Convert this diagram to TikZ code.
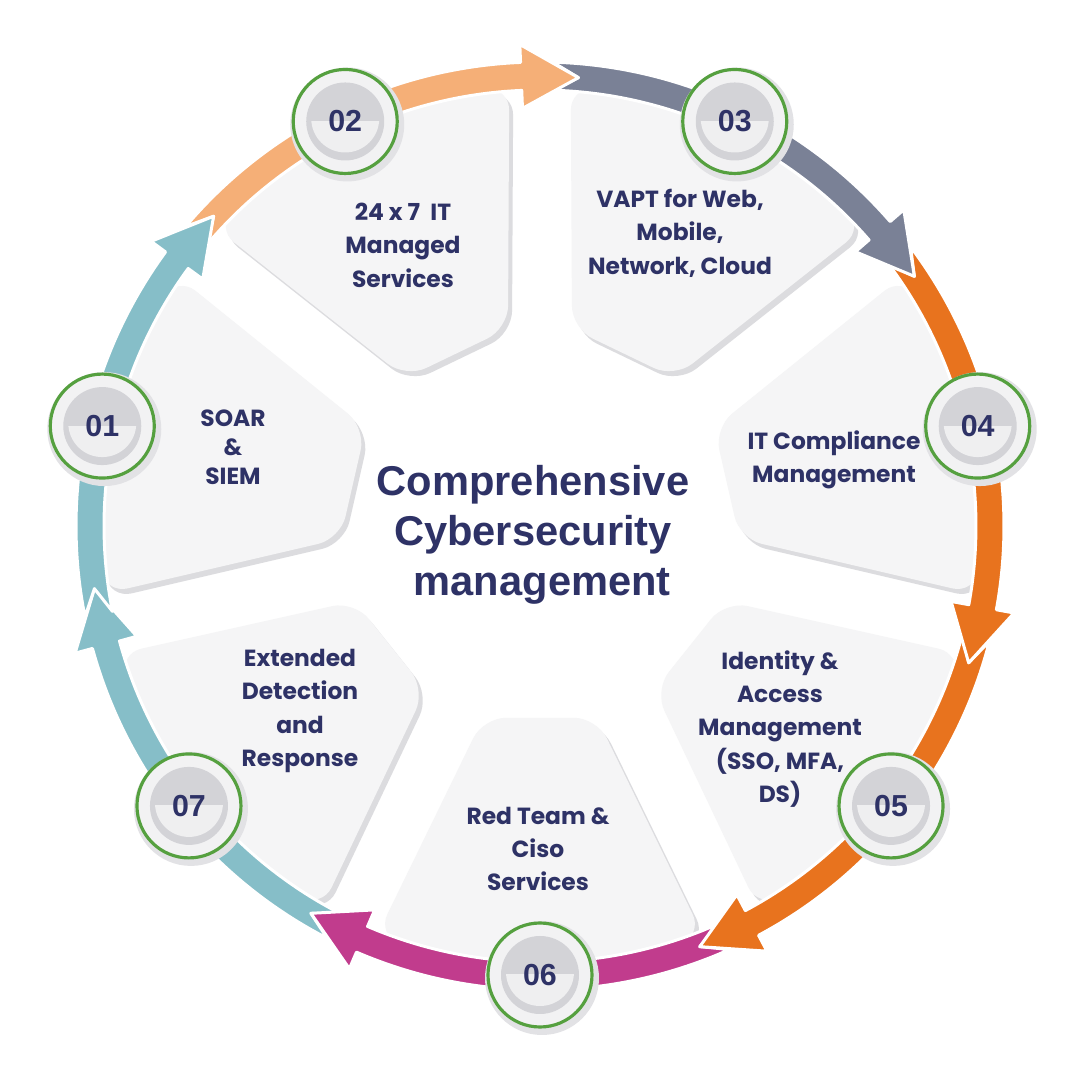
\documentclass[tikz,border=0pt]{standalone}
\usepackage{fontspec}
\setmainfont{Liberation Sans}
\newfontfamily\popf{Poppins}
\definecolor{navy}{HTML}{2E3266}
\definecolor{arTeal}{HTML}{86BEC8}
\definecolor{arPeach}{HTML}{F5AF77}
\definecolor{arGray}{HTML}{7A8196}
\definecolor{arOrange}{HTML}{E8731E}
\definecolor{arMag}{HTML}{C13C8D}
\definecolor{ringGreen}{HTML}{55A03F}
\definecolor{panelFill}{HTML}{F5F5F6}
\definecolor{panelShadow}{HTML}{DCDCDF}
\definecolor{discDark}{HTML}{D3D3D7}
\definecolor{discLight}{HTML}{EFEFF0}
\definecolor{discOuter}{HTML}{F2F2F3}
\definecolor{haloGray}{HTML}{E2E2E5}
\tikzset{
  paneltext/.style={text=navy, align=center, font=\popf\bfseries\fontsize{13.3}{19}\selectfont},
  titletext/.style={text=navy, align=center, font=\bfseries\fontsize{23.7}{28.4}\selectfont},
  numtext/.style={text=navy, font=\bfseries\fontsize{17.3}{20}\selectfont, inner sep=0pt},
  arrowfill/.style={fill=#1, draw=white, line width=1.7pt, line join=round}
}
% panel wedge in a frame rotated to angle #1
\newcommand{\panelpath}{({-16.5}:200) -- ({-21.7}:440) arc[start angle=-21.7, end angle=21.7, radius=440] -- (16.5:200) -- cycle}
\newcommand{\drawpanel}[1]{%
  \begin{scope}[shift={(4,-5)}, rotate=#1]
    \fill[panelShadow, rounded corners=13] \panelpath;
  \end{scope}
  \begin{scope}[rotate=#1]
    \fill[panelFill, rounded corners=13] \panelpath;
  \end{scope}}
% ring arrow: colour, previous tip angle, tip angle
\newcommand{\ringarrow}[3]{%
  \path[arrowfill=#1]
    ({#2+3.3}:464) arc[start angle={#2+3.3}, end angle={#3+7.3}, radius=464]
    -- ({#3+7.3}:482) -- (#3:450) -- ({#3+7.3}:418) -- ({#3+7.3}:436)
    arc[start angle={#3+7.3}, end angle={#2+3.3}, radius=436]
    -- (#2:450) -- cycle;}
\newcommand{\stepdisc}[1]{%
  \begin{scope}[shift={(#1:449)}]
    \fill[haloGray] (2,-3) circle[radius=57];
    \fill[discOuter] (0,0) circle[radius=53];
    \fill[discDark] (0,0) circle[radius=39];
    \begin{scope}
      \clip (-40,0) rectangle (40,-40);
      \fill[discLight] (0,3) circle[radius=34];
    \end{scope}
    \draw[ringGreen, line width=1.8pt] (0,0) circle[radius=52];
  \end{scope}}
\begin{document}
\begin{tikzpicture}[x=0.02cm, y=0.02cm]
\useasboundingbox (0,0) rectangle (1080,1080);
\fill[white] (0,0) rectangle (1080,1080);
\begin{scope}[shift={(540,554)}]
  % panels
  \foreach \a in {167.14,115.71,64.29,12.86,-38.57,-90,-141.43} {\drawpanel{\a}}
  % arrows (tips at circle angle - 30.6)
  \ringarrow{arTeal}{-120.6}{-172.0}
  \ringarrow{arMag}{-69.2}{-120.6}
  \ringarrow{arOrange}{-17.7}{-69.2}
  \ringarrow{arOrange}{33.7}{-17.7}
  \ringarrow{arGray}{85.1}{33.7}
  \ringarrow{arPeach}{136.5}{85.1}
  \ringarrow{arTeal}{188.0}{136.5}
  % step discs
  \foreach \a in {167.14,115.71,64.29,12.86,-38.57,-90,-141.43} {\stepdisc{\a}}
  \node[numtext] (n1) at (167.14:449) {01};
  \node[numtext] (n2) at (115.71:449) {02};
  \node[numtext] (n3) at (64.29:449) {03};
  \node[numtext] (n4) at (12.86:449) {04};
  \node[numtext] (n5) at (-38.57:449) {05};
  \node[numtext] (n6) at (-90:449) {06};
  \node[numtext] (n7) at (-141.43:449) {07};
\end{scope}
% panel texts
\node[paneltext, font=\popf\bfseries\fontsize{13.3}{16.5}\selectfont] (p1) at (233,633) {SOAR\\\&\\SIEM};
\node[paneltext] (p2) at (403,835) {24 x 7\;\,IT\\Managed\\Services};
\node[paneltext] (p3) at (680,847) {VAPT for Web,\\Mobile,\\Network, Cloud};
\node[paneltext] (p4) at (834,620) {IT Compliance\\Management};
\node[paneltext] (p5) at (780,351) {Identity \&\\Access\\Management\\(SSO, MFA,\\DS)};
\node[paneltext] (p6) at (538,231) {Red Team \&\\Ciso\\Services};
\node[paneltext] (p7) at (300,369) {Extended\\Detection\\and\\Response};
% title
\node[titletext] (tt) at (533,545) {Comprehensive\\Cybersecurity\\\ \,management};
\end{tikzpicture}
\end{document}
